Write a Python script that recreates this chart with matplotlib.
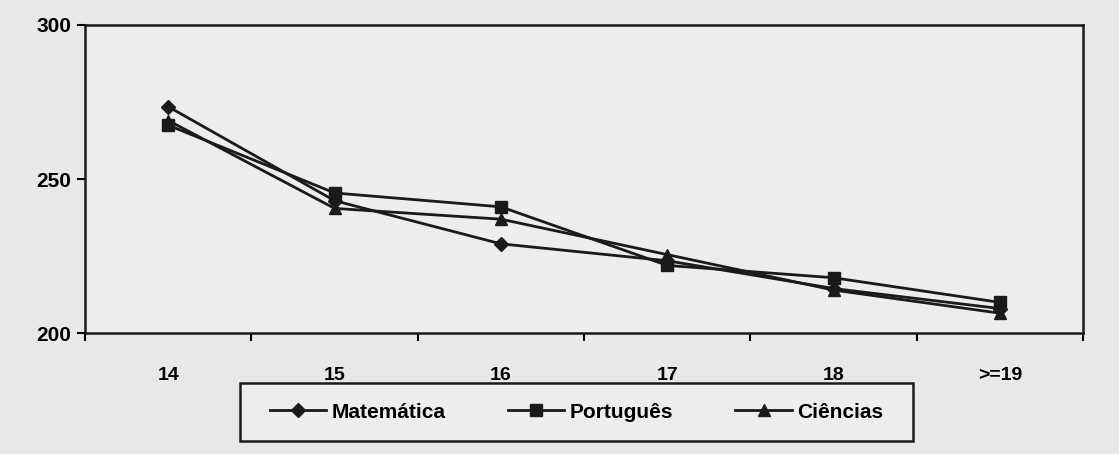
import matplotlib
matplotlib.use("Agg")
import matplotlib.pyplot as plt
from matplotlib.patches import Rectangle
import numpy as np

plt.rcParams['font.family'] = ['Liberation Sans', 'DejaVu Sans']

# idades e médias de proficiência
idades = ['14', '15', '16', '17', '18', '>=19']
matematica = [273.5, 243.0, 229.0, 223.5, 214.5, 208.0]
portugues = [267.5, 245.5, 241.0, 222.0, 218.0, 210.0]
ciencias = [269.0, 240.5, 237.0, 225.5, 214.0, 206.5]

W, H = 1119, 454
fig = plt.figure(figsize=(W / 100, H / 100), dpi=100, facecolor='#e8e8e6')
ax = fig.add_axes([0.076, 0.266, 0.892, 0.679])
ax.set_facecolor('#ededeb')

x = np.arange(len(idades))
ax.plot(x, matematica, color='#1a1a1a', lw=2, marker='D', ms=7, label='Matemática')
ax.plot(x, portugues, color='#1a1a1a', lw=2, marker='s', ms=9, label='Português')
ax.plot(x, ciencias, color='#1a1a1a', lw=2, marker='^', ms=9, label='Ciências')

ax.set_xlim(-0.5, len(idades) - 0.5)
ax.set_ylim(200, 300)
ax.set_yticks([200, 250, 300])
ax.tick_params(axis='y', direction='out', length=6, width=1.5, labelsize=15, pad=4)
for lbl in ax.get_yticklabels():
    lbl.set_fontweight('bold')

# marcas entre categorias, rótulos no centro
ax.set_xticks(np.arange(len(idades) + 1) - 0.5)
ax.set_xticklabels([])
ax.tick_params(axis='x', which='major', direction='out', length=6, width=1.5)
ax.set_xticks(x, minor=True)
ax.set_xticklabels(idades, minor=True, fontsize=14, fontweight='bold')
ax.tick_params(axis='x', which='minor', length=0, pad=24)

for s in ax.spines.values():
    s.set_linewidth(1.8)
    s.set_color('#1a1a1a')

# caixa da legenda (em pixels da figura)
bx0, bx1, by0, by1 = 240, 913, 383, 441
fig.patches.append(Rectangle((bx0 / W, 1 - by1 / H), (bx1 - bx0) / W, (by1 - by0) / H,
                             transform=fig.transFigure, facecolor='#ededeb',
                             edgecolor='#1a1a1a', lw=1.8, zorder=0))
fig.legend(loc='center', bbox_to_anchor=((bx0 + bx1) / 2 / W, 1 - (by0 + by1) / 2 / H),
           ncol=3, prop={'weight': 'bold', 'size': 15}, frameon=False,
           handlelength=2.7, columnspacing=3.0, handletextpad=0.25)

fig.savefig('out.png', dpi=100, facecolor=fig.get_facecolor())
